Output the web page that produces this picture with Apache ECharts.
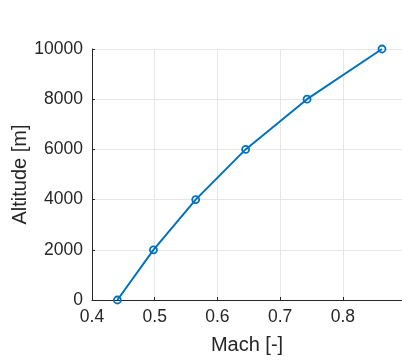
<!DOCTYPE html>
<html><head><meta charset="utf-8">
<script src="https://cdn.jsdelivr.net/npm/echarts@6/dist/echarts.min.js"></script>
<style>html,body{margin:0;padding:0;background:#fff}#c{width:402px;height:362px}</style>
</head><body><div id="c"></div>
<script>
const mach = [0.4405, 0.498, 0.5654, 0.645, 0.743, 0.8625];
const altitude = [0, 2000, 4000, 6000, 8000, 10000];
const xTicks = [0.4, 0.5, 0.6, 0.7, 0.8];
const yTicks = [0, 2000, 4000, 6000, 8000, 10000];

const chart = echarts.init(document.getElementById('c'));
const txt = '#262626';
const ff = 'Arial, "Liberation Sans", sans-serif';
chart.setOption({
  animation: false,
  textStyle: {fontFamily: ff},
  grid: {left: 92, right: 0, top: 49, bottom: 62, containLabel: false, outerBoundsMode: 'none'},
  xAxis: {
    type: 'value', min: xTicks[0], max: 0.8944, interval: 0.1,
    name: 'Mach [-]', nameLocation: 'middle', nameGap: 35, nameMoveOverlap: false,
    nameTextStyle: {fontFamily: ff, fontSize: 20, color: txt},
    axisLine: {show: true, lineStyle: {color: txt, width: 1}},
    axisTick: {show: true, inside: true, length: 3, lineStyle: {color: txt}},
    axisLabel: {fontFamily: ff, fontSize: 17.5, color: txt, margin: 8, showMaxLabel: false,
      formatter: v => v.toFixed(1)},
    splitLine: {show: true, lineStyle: {color: '#e6e6e6', width: 1}}
  },
  yAxis: {
    type: 'value', min: yTicks[0], max: yTicks[yTicks.length - 1], interval: 2000,
    name: 'Altitude [m]', nameLocation: 'middle', nameGap: 62, nameMoveOverlap: false,
    nameTextStyle: {fontFamily: ff, fontSize: 20, color: txt},
    axisLine: {show: true, lineStyle: {color: txt, width: 1}},
    axisTick: {show: true, inside: true, length: 3, lineStyle: {color: txt}},
    axisLabel: {fontFamily: ff, fontSize: 17.5, color: txt, margin: 9,
      formatter: v => String(v)},
    splitLine: {show: true, lineStyle: {color: '#e6e6e6', width: 1}}
  },
  series: [{
    type: 'line',
    data: mach.map((m, i) => [m, altitude[i]]),
    symbol: 'circle', symbolSize: 7, showAllSymbol: true,
    lineStyle: {color: '#0072BD', width: 2},
    itemStyle: {color: 'rgba(255,255,255,0)', borderColor: '#0072BD', borderWidth: 1.8},
    clip: false
  }]
});
</script></body></html>
